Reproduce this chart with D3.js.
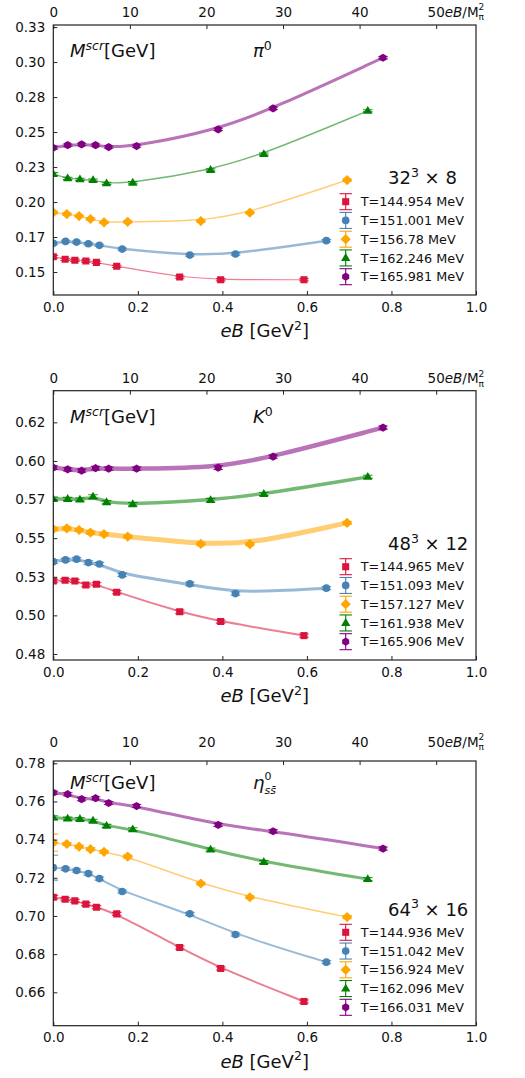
<!DOCTYPE html>
<html><head><meta charset="utf-8">
<script src="https://cdn.jsdelivr.net/npm/d3@7"></script>
<style>body{margin:0;background:#fff} svg{display:block;font-family:"DejaVu Sans",sans-serif} text{white-space:pre}</style>
</head><body><svg id="c" width="525" height="1078"></svg>
<script>
// ---------- data ----------
// eB values [GeV^2] per temperature series
const eB_red    = [0, 0.028, 0.051, 0.077, 0.102, 0.150, 0.299, 0.396, 0.593];
const eB_blue   = [0, 0.029, 0.055, 0.083, 0.109, 0.163, 0.323, 0.431, 0.646];
const eB_orange = [0, 0.032, 0.061, 0.088, 0.120, 0.176, 0.349, 0.465, 0.695];
const eB_green  = [0, 0.034, 0.063, 0.094, 0.126, 0.188, 0.372, 0.498, 0.744];
const eB_purple = [0, 0.034, 0.067, 0.100, 0.131, 0.197, 0.390, 0.520, 0.780];

// pi0, 32^3 x 8
const pi_red    = [0.1609, 0.1591, 0.1584, 0.1579, 0.1569, 0.1541, 0.1464, 0.1445, 0.1445];
const pi_blue   = [0.1705, 0.1719, 0.1714, 0.1702, 0.1691, 0.1664, 0.1621, 0.1629, 0.1724];
const pi_orange = [0.1926, 0.1914, 0.1900, 0.1879, 0.1855, 0.1859, 0.1864, 0.1924, 0.2157];
const pi_green  = [0.2200, 0.2169, 0.2162, 0.2157, 0.2134, 0.2138, 0.2229, 0.2343, 0.2652];
const pi_purple = [0.2388, 0.2407, 0.2412, 0.2407, 0.2393, 0.2400, 0.2519, 0.2669, 0.3031];
const pi_err    = [0.0010, 0.0008, 0.0008, 0.0008, 0.0008, 0.0008, 0.0008, 0.0008, 0.0008];
const pi_temps  = ["T=144.954 MeV", "T=151.001 MeV", "T=156.78 MeV", "T=162.246 MeV", "T=165.981 MeV"];

// K0, 48^3 x 12
const k_red    = [0.5223, 0.5228, 0.5223, 0.5197, 0.5202, 0.5150, 0.5023, 0.4960, 0.4869];
const k_blue   = [0.5348, 0.5359, 0.5364, 0.5342, 0.5333, 0.5262, 0.5204, 0.5141, 0.5176];
const k_orange = [0.5558, 0.5564, 0.5553, 0.5536, 0.5526, 0.5510, 0.5463, 0.5461, 0.5599];
const k_green  = [0.5754, 0.5754, 0.5750, 0.5769, 0.5733, 0.5720, 0.5746, 0.5786, 0.5897];
const k_purple = [0.5957, 0.5946, 0.5937, 0.5953, 0.5950, 0.5950, 0.5957, 0.6028, 0.6216];
const k_err    = [0.0012, 0.0010, 0.0010, 0.0012, 0.0010, 0.0010, 0.0012, 0.0010, 0.0010];
const k_temps  = ["T=144.965 MeV", "T=151.093 MeV", "T=157.127 MeV", "T=161.938 MeV", "T=165.906 MeV"];

// eta_ssbar, 64^3 x 16
const eta_red    = [0.7098, 0.7088, 0.7079, 0.7062, 0.7046, 0.7011, 0.6835, 0.6725, 0.6552];
const eta_blue   = [0.7253, 0.7247, 0.7238, 0.7222, 0.7196, 0.7128, 0.7011, 0.6903, 0.6758];
const eta_orange = [0.7384, 0.7377, 0.7363, 0.7350, 0.7336, 0.7311, 0.7170, 0.7098, 0.6994];
const eta_green  = [0.7515, 0.7510, 0.7508, 0.7499, 0.7472, 0.7454, 0.7348, 0.7283, 0.7193];
const eta_purple = [0.7646, 0.7638, 0.7612, 0.7617, 0.7592, 0.7576, 0.7477, 0.7444, 0.7353];
const eta_err    = [0.0010, 0.0008, 0.0008, 0.0008, 0.0008, 0.0008, 0.0008, 0.0008, 0.0008];
const eta_err0   = [0.0010, 0.0065, 0.0045, 0.0010, 0.0008]; // larger first-point errors per series
const eta_temps  = ["T=144.936 MeV", "T=151.042 MeV", "T=156.924 MeV", "T=162.096 MeV", "T=166.031 MeV"];

// tick values / labels
const bottomTicks = [0, 0.2, 0.4, 0.6, 0.8, 1.0];
const topTicks = [0, 10, 20, 30, 40, 50];
const pi_yTicks = [0.15, 0.175, 0.2, 0.225, 0.25, 0.275, 0.3, 0.325];
const pi_yLabels = ["0.15", "0.17", "0.20", "0.23", "0.25", "0.28", "0.30", "0.33"];
const k_yTicks = [0.475, 0.5, 0.525, 0.55, 0.575, 0.6, 0.625];
const k_yLabels = ["0.48", "0.50", "0.53", "0.55", "0.57", "0.60", "0.62"];
const eta_yTicks = [0.66, 0.68, 0.70, 0.72, 0.74, 0.76, 0.78];
const eta_yLabels = ["0.66", "0.68", "0.70", "0.72", "0.74", "0.76", "0.78"];

// ---------- styling ----------
const colors = ["#dc143c", "#4682b4", "#ffa500", "#008000", "#800080"];
const shapes = ["square", "circle", "diamond", "triangle", "hexagon"];
const eBs = [eB_red, eB_blue, eB_orange, eB_green, eB_purple];
const topPerGeV2 = 55.2;

const svg = d3.select('#c');
const X0 = 53.3, X1 = 476;

function markerPath(shape) {
  if (shape === 'square') return d3.symbol(d3.symbolSquare, 50)();
  if (shape === 'circle') return d3.symbol(d3.symbolCircle, 46)();
  if (shape === 'diamond') { const r = 5.1; return `M0,${-r}L${r},0L0,${r}L${-r},0Z`; }
  if (shape === 'triangle') { const r = 4.9; return `M0,${-r}L${r*0.95},${r*0.6}L${-r*0.95},${r*0.6}Z`; }
  const r = 4.1; let p = '';
  for (let k = 0; k < 6; k++) { const a = Math.PI/2 + k*Math.PI/3; p += (k? 'L':'M') + (r*Math.cos(a)).toFixed(2) + ',' + (-r*Math.sin(a)).toFixed(2); }
  return p + 'Z';
}

function rich(g, x, y, parts) {
  let cx = x, prevX = x;
  parts.forEach(p => {
    const px = p.back ? prevX : cx;
    const t = g.append('text').attr('x', px).attr('y', y + (p.dy || 0))
      .attr('font-size', p.s).attr('font-style', p.it ? 'italic' : 'normal')
      .attr('fill', '#111').text(p.t);
    const w = t.node().getComputedTextLength();
    prevX = px;
    cx = Math.max(cx, px + w);
  });
}

function drawPanel(cfg) {
  const g = svg.append('g');
  const x = d3.scaleLinear().domain([0, 1]).range([X0, X1]);
  const xt = d3.scaleLinear().domain([0, topPerGeV2]).range([X0, X1]);
  const y = d3.scaleLinear().domain(cfg.yDomain).range([cfg.bottom, cfg.top]);
  const clipId = 'clip' + cfg.id;
  g.append('clipPath').attr('id', clipId).append('rect')
    .attr('x', X0).attr('y', cfg.top).attr('width', X1 - X0).attr('height', cfg.bottom - cfg.top);

  const plot = g.append('g').attr('clip-path', `url(#${clipId})`);
  // fit bands
  const line = d3.line().x(d => x(d[0])).y(d => y(d[1])).curve(d3.curveBasis);
  cfg.series.forEach((vals, i) => {
    const pts = eBs[i].map((e, j) => [e, vals[j]]);
    plot.append('path').attr('d', line(pts)).attr('fill', 'none')
      .attr('stroke', colors[i]).attr('stroke-opacity', 0.55)
      .attr('stroke-width', cfg.widths[i]);
  });
  // points with error bars
  cfg.series.forEach((vals, i) => {
    const c = colors[i];
    eBs[i].forEach((e, j) => {
      const err = (j === 0 && cfg.err0) ? cfg.err0[i] : cfg.err[j];
      const px = x(e), y1 = y(vals[j] - err), y2 = y(vals[j] + err);
      const eg = plot.append('g').attr('stroke', c).attr('stroke-width', 1.1).attr('stroke-opacity', 0.85);
      eg.append('line').attr('x1', px).attr('x2', px).attr('y1', y1).attr('y2', y2);
      eg.append('line').attr('x1', px - 4.8).attr('x2', px + 4.8).attr('y1', y1).attr('y2', y1);
      eg.append('line').attr('x1', px - 4.8).attr('x2', px + 4.8).attr('y1', y2).attr('y2', y2);
      plot.append('path').attr('d', markerPath(shapes[i]))
        .attr('transform', `translate(${px},${y(vals[j])})`).attr('fill', c);
    });
  });

  // axes
  const yAxis = d3.axisLeft(y).tickValues(cfg.yTicks).tickFormat((d, i) => cfg.yLabels[i])
    .tickSizeInner(-4).tickSizeOuter(0).tickPadding(8);
  const ya = g.append('g').attr('transform', `translate(${X0},0)`).call(yAxis);
  const xAxis = d3.axisBottom(x).tickValues(bottomTicks).tickFormat(d3.format('.1f'))
    .tickSizeInner(-4).tickSizeOuter(0).tickPadding(7);
  const xa = g.append('g').attr('transform', `translate(0,${cfg.bottom})`).call(xAxis);
  const tAxis = d3.axisTop(xt).tickValues(topTicks).tickFormat(d => d === 50 ? '' : d3.format('d')(d))
    .tickSizeInner(-4).tickSizeOuter(0).tickPadding(cfg.topGap);
  const ta = g.append('g').attr('transform', `translate(0,${cfg.top})`).call(tAxis);
  [ya, xa, ta].forEach(a => {
    a.select('.domain').remove();
    a.selectAll('text').attr('font-size', 13.5).attr('fill', '#111').attr('font-family', '"DejaVu Sans", sans-serif');
    a.selectAll('line').attr('stroke', '#222');
  });
  // frame
  g.append('rect').attr('x', X0).attr('y', cfg.top).attr('width', X1 - X0).attr('height', cfg.bottom - cfg.top)
    .attr('fill', 'none').attr('stroke', '#222').attr('stroke-width', 1.2);

  // top axis label "50eB/M_pi^2"
  rich(g, xt(50) - 8.6, cfg.top - cfg.topGap, [
    {t: '50', s: 13.5}, {t: 'eB', s: 13.5, it: true}, {t: '/M', s: 13.5},
    {t: '2', s: 9, dy: -6.5}, {t: 'π', s: 9, dy: 3.5, back: true}
  ]);
  // bottom axis label
  const bl = g.append('g');
  rich(bl, 0, cfg.bottom + 42, [
    {t: 'eB', s: 18, it: true}, {t: ' [GeV', s: 18}, {t: '2', s: 12.5, dy: -7.5}, {t: ']', s: 18}
  ]);
  const bw = bl.node().getBBox().width;
  bl.attr('transform', `translate(${(X0 + X1) / 2 - bw / 2},0)`);

  // in-plot labels
  rich(g, 70, cfg.labelY, [
    {t: 'M', s: 18, it: true}, {t: 'scr', s: 12.5, it: true, dy: -7.5}, {t: '[GeV]', s: 18}
  ]);
  rich(g, 253, cfg.labelY, cfg.particle);
  rich(g, 388, cfg.titleY, cfg.lattice);

  // legend
  cfg.temps.forEach((t, i) => {
    const cy = cfg.legendY + i * 18.75;
    const lg = g.append('g').attr('stroke', colors[i]).attr('stroke-width', 1.1);
    lg.append('line').attr('x1', 345.7).attr('x2', 345.7).attr('y1', cy - 8).attr('y2', cy + 8);
    lg.append('line').attr('x1', 339.5).attr('x2', 351.9).attr('y1', cy - 8).attr('y2', cy - 8);
    lg.append('line').attr('x1', 339.5).attr('x2', 351.9).attr('y1', cy + 8).attr('y2', cy + 8);
    g.append('path').attr('d', markerPath(shapes[i])).attr('transform', `translate(345.7,${cy})`).attr('fill', colors[i]);
    g.append('text').attr('x', 360.7).attr('y', cy + 4.6).attr('font-size', 12.8).attr('fill', '#111').text(t);
  });
}

drawPanel({
  id: 1, top: 25, bottom: 295, yDomain: [0.1336, 0.3265], yTicks: pi_yTicks, yLabels: pi_yLabels,
  topGap: 8.3, series: [pi_red, pi_blue, pi_orange, pi_green, pi_purple], err: pi_err,
  widths: [1.2, 2.5, 1.4, 1.4, 3], labelY: 57, titleY: 184.3, legendY: 201.7, temps: pi_temps,
  particle: [{t: 'π', s: 18, it: true}, {t: '0', s: 12.5, dy: -7.5}],
  lattice: [{t: '32', s: 18}, {t: '3', s: 12.5, dy: -7.5}, {t: ' × 8', s: 18}]
});
drawPanel({
  id: 2, top: 390.7, bottom: 660, yDomain: [0.4711, 0.6455], yTicks: k_yTicks, yLabels: k_yLabels,
  topGap: 7.4, series: [k_red, k_blue, k_orange, k_green, k_purple], err: k_err,
  widths: [2, 3, 5, 3.5, 4.5], labelY: 423, titleY: 550, legendY: 566.7, temps: k_temps,
  particle: [{t: 'K', s: 18, it: true}, {t: '0', s: 12.5, dy: -7.5}],
  lattice: [{t: '48', s: 18}, {t: '3', s: 12.5, dy: -7.5}, {t: ' × 12', s: 18}]
});
drawPanel({
  id: 3, top: 761, bottom: 1025.7, yDomain: [0.6425, 0.7812], yTicks: eta_yTicks, yLabels: eta_yLabels,
  topGap: 14.3, series: [eta_red, eta_blue, eta_orange, eta_green, eta_purple], err: eta_err, err0: eta_err0,
  widths: [2, 2, 1.5, 3, 3], labelY: 789, titleY: 915.7, legendY: 932.3, temps: eta_temps,
  particle: [{t: 'η', s: 18, it: true}, {t: '0', s: 11, dy: -9}, {t: 'ss̄', s: 11, it: true, dy: 4.5, back: true}],
  lattice: [{t: '64', s: 18}, {t: '3', s: 12.5, dy: -7.5}, {t: ' × 16', s: 18}]
});
</script></body></html>
